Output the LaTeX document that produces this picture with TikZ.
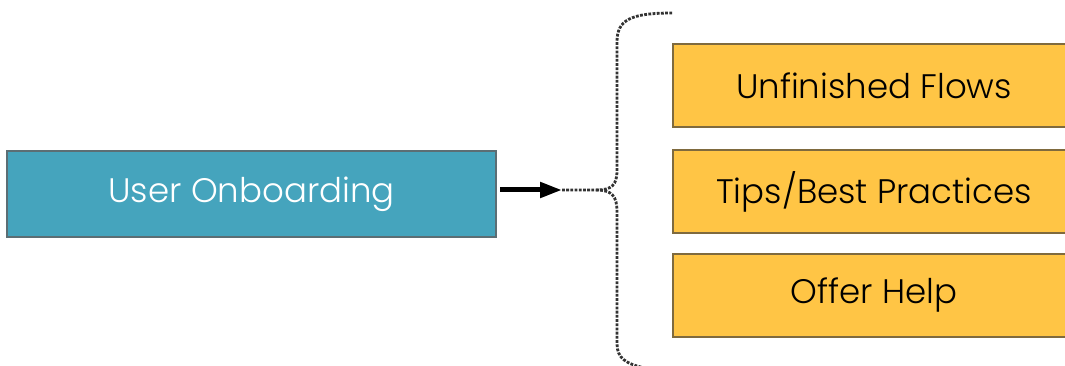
\documentclass[tikz,border=0pt]{standalone}
\usepackage{fontspec}
\setmainfont{Poppins Light}
\usetikzlibrary{arrows.meta}
\definecolor{teal}{HTML}{45A4BD}
\definecolor{tealedge}{HTML}{5C6E74}
\definecolor{amber}{HTML}{FFC545}
\definecolor{amberedge}{HTML}{7F6A3E}
\definecolor{bracegray}{HTML}{333333}
\tikzset{
  mainbox/.style={draw=tealedge, line width=1.4pt, fill=teal, text=white,
    minimum width=489pt, minimum height=86pt, inner sep=0pt,
    font=\fontsize{34}{40}\selectfont},
  itembox/.style={draw=amberedge, line width=1.4pt, fill=amber, text=black,
    minimum width=402pt, minimum height=83pt, inner sep=0pt,
    font=\fontsize{34}{40}\selectfont},
  bracepath/.style={draw=bracegray, line width=2.8pt, dash pattern=on 2.8pt off 1.4pt},
  pusharrow/.style={line width=5pt, -{Triangle[length=22pt,width=15pt]}}
}
\begin{document}
\begin{tikzpicture}[x=1pt,y=-1pt]
  \useasboundingbox (0,0) rectangle (1065,366);
  \begin{scope}
    \clip (0,0) rectangle (1065,366);
    % source box
    \node[mainbox] (onboard) at (251.5,194) {User Onboarding};
    % target boxes
    \node[itembox] (flows) at (874,85.5) {Unfinished Flows};
    \node[itembox] (tips) at (874,191.5) {Tips/Best Practices};
    \node[itembox] (help) at (874,295.5) {Offer Help};
    % brace
    \coordinate (tip) at (562,190);
    \coordinate (mid) at (596,190);
    \coordinate (top) at (673,13);
    \coordinate (bottom) at (645,368);
    \draw[bracepath] (tip) -- (mid)
      .. controls (612,190) and (617,185) .. (617,170)
      -- (617,42)
      .. controls (617,20) and (630,13) .. (top);
    \draw[bracepath] (mid)
      .. controls (612,190) and (617,196) .. (617,212)
      -- (617,344)
      .. controls (617,358) and (626,364) .. (bottom);
    % arrow into the brace
    \coordinate (start) at (500,190);
    \draw[pusharrow] (start) -- (tip);
  \end{scope}
\end{tikzpicture}
\end{document}
